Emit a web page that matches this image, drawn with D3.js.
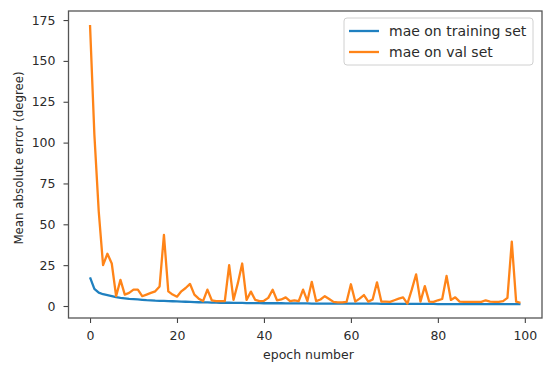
<!DOCTYPE html>
<html>
<head>
<meta charset="utf-8">
<script src="https://cdn.jsdelivr.net/npm/d3@7"></script>
<style>
  html, body { margin: 0; padding: 0; background: #fff; }
  svg { display: block; }
  text { font-family: "DejaVu Sans", sans-serif; fill: #2b2b2b; }
</style>
</head>
<body>
<svg id="chart" width="550" height="368"></svg>
<script>
const epochs = d3.range(0, 100);
const trainMae = [
  17.5, 10.5, 8.2, 7.2, 6.6, 6.0, 5.4, 5.0, 4.7, 4.4,
  4.2, 4.0, 3.8, 3.6, 3.5, 3.3, 3.2, 3.1, 3.0, 2.9,
  2.8, 2.7, 2.6, 2.5, 2.4, 2.3, 2.2, 2.2, 2.1, 2.1,
  2.0, 2.0, 2.0, 1.9, 1.9, 1.9, 1.8, 1.8, 1.8, 1.8,
  1.7, 1.7, 1.7, 1.7, 1.7, 1.6, 1.6, 1.6, 1.6, 1.6,
  1.6, 1.5, 1.5, 1.5, 1.5, 1.5, 1.5, 1.5, 1.4, 1.4,
  1.4, 1.4, 1.4, 1.4, 1.4, 1.4, 1.4, 1.3, 1.3, 1.3,
  1.3, 1.3, 1.3, 1.3, 1.3, 1.3, 1.3, 1.3, 1.3, 1.3,
  1.2, 1.2, 1.2, 1.2, 1.2, 1.2, 1.2, 1.2, 1.2, 1.2,
  1.2, 1.2, 1.2, 1.2, 1.2, 1.2, 1.2, 1.2, 1.2, 1.2
];
const valMae = [
  172, 105, 58, 25, 32, 26, 6, 16, 7, 8,
  10, 10, 6, 7, 8, 9, 12, 43.5, 9, 7,
  5.7, 9, 11, 13.5, 7, 4.5, 3, 10, 3.5, 3,
  3, 3, 25, 3.7, 14, 26, 3.7, 8.8, 3.7, 3,
  3.2, 5, 10, 3.5, 4, 5.3, 3, 3.5, 3, 10,
  3, 14.8, 3, 4, 6, 4.3, 2.5, 2.2, 2.2, 2.5,
  13.3, 2.7, 4.5, 6.7, 2.7, 4, 14.5, 2.7, 2.7, 2.5,
  3.5, 4.5, 5.3, 1.5, 10, 19.4, 2.7, 12.2, 2.7, 2.5,
  3.5, 4.3, 18.4, 3.7, 5.3, 2.7, 2.5, 2.5, 2.5, 2.5,
  2.5, 3.5, 2.7, 2.5, 2.5, 3, 5, 39.4, 2.7, 2
];
const xTicks = [0, 20, 40, 60, 80, 100];
const yTicks = [0, 25, 50, 75, 100, 125, 150, 175];
const seriesNames = ["mae on training set", "mae on val set"];
const seriesColors = ["#1f80c0", "#ff8418"];

const svg = d3.select("#chart");
const L = 68.5, R = 542, T = 11, B = 318;

const x = d3.scaleLinear().domain([-4.95, 103.95]).range([L, R]);
const allVals = trainMae.concat(valMae);
const vmin = d3.min(allVals), vmax = d3.max(allVals);
const pad = (vmax - vmin) * 0.05;
const y = d3.scaleLinear().domain([vmin - pad, vmax + pad]).range([B, T]);

// axes
const xAxis = d3.axisBottom(x).tickValues(xTicks).tickSize(5).tickPadding(8).tickFormat(d3.format("d"));
const yAxis = d3.axisLeft(y).tickValues(yTicks).tickSize(5).tickPadding(8).tickFormat(d3.format("d"));

const gx = svg.append("g").attr("transform", `translate(0,${B})`).call(xAxis);
const gy = svg.append("g").attr("transform", `translate(${L},0)`).call(yAxis);
[gx, gy].forEach(g => {
  g.select(".domain").remove();
  g.selectAll(".tick line").attr("stroke", "#444").attr("stroke-width", 1.1);
  g.selectAll(".tick text").attr("font-size", 12.5).attr("fill", "#2b2b2b")
    .attr("font-family", "DejaVu Sans, sans-serif");
});

// lines
const line = d3.line().x((d, i) => x(epochs[i])).y(d => y(d));
[trainMae, valMae].forEach((s, k) => {
  svg.append("path").datum(s)
    .attr("fill", "none")
    .attr("stroke", seriesColors[k])
    .attr("stroke-width", 2.3)
    .attr("stroke-linejoin", "round")
    .attr("stroke-linecap", "butt")
    .attr("d", line);
});

// frame
svg.append("rect").attr("x", L).attr("y", T).attr("width", R - L).attr("height", B - T)
  .attr("fill", "none").attr("stroke", "#555").attr("stroke-width", 1.3);

// axis labels
svg.append("text").attr("x", (x(0) + x(100)) / 2 + 1).attr("y", 358.5)
  .attr("text-anchor", "middle").attr("font-size", 12.5).text("epoch number");
svg.append("text").attr("transform", "translate(23,158) rotate(-90)")
  .attr("text-anchor", "middle").attr("font-size", 11.8).text("Mean absolute error (degree)");

// legend
const lg = svg.append("g");
lg.append("rect").attr("x", 344).attr("y", 18).attr("width", 189).attr("height", 47)
  .attr("rx", 3).attr("fill", "#fff").attr("fill-opacity", 0.8)
  .attr("stroke", "#d0d0d0").attr("stroke-width", 1);
seriesNames.forEach((name, k) => {
  const yy = 31 + k * 21;
  lg.append("line").attr("x1", 349).attr("x2", 379).attr("y1", yy).attr("y2", yy)
    .attr("stroke", seriesColors[k]).attr("stroke-width", 2.3);
  lg.append("text").attr("x", 389).attr("y", yy + 5).attr("font-size", 14).text(name);
});
</script>
</body>
</html>
